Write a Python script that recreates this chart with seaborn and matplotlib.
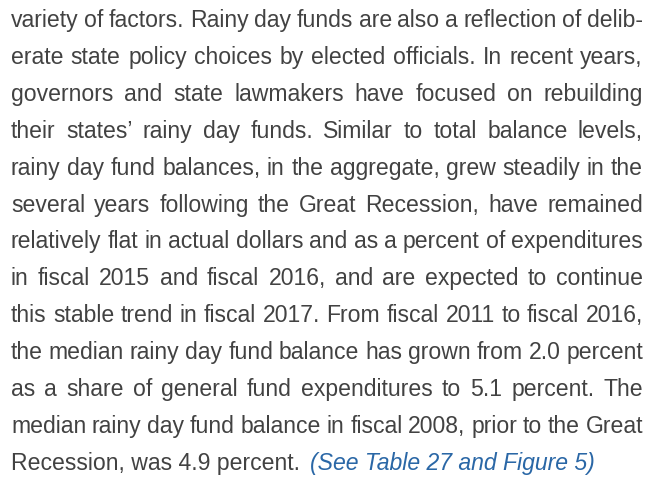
import matplotlib
matplotlib.use("Agg")
import matplotlib.pyplot as plt
import seaborn as sns

# Paragraph content (one entry per printed line)
justified_lines = [
    "variety of factors. Rainy day funds are also a reflection of delib-",
    "erate state policy choices by elected officials. In recent years,",
    "governors and state lawmakers have focused on rebuilding",
    "their states\u2019 rainy day funds. Similar to total balance levels,",
    "rainy day fund balances, in the aggregate, grew steadily in the",
    "several years following the Great Recession, have remained",
    "relatively flat in actual dollars and as a percent of expenditures",
    "in fiscal 2015 and fiscal 2016, and are expected to continue",
    "this stable trend in fiscal 2017. From fiscal 2011 to fiscal 2016,",
    "the median rainy day fund balance has grown from 2.0 percent",
    "as a share of general fund expenditures to 5.1 percent. The",
    "median rainy day fund balance in fiscal 2008, prior to the Great",
]
last_line = "Recession, was 4.9 percent."
link_text = "(See Table 27 and Figure 5)"

text_color = "#424242"
link_color = "#2a67a6"

sns.set_theme(style="white")
plt.rcParams['font.family'] = ['Liberation Sans', 'DejaVu Sans']

W, H = 649, 480
fig = plt.figure(figsize=(6.49, 4.80), dpi=100)
fig.patch.set_facecolor("white")
ax = fig.add_axes([0, 0, 1, 1])
ax.set_xlim(0, W)
ax.set_ylim(H, 0)
ax.axis('off')
renderer = fig.canvas.get_renderer()

left, right = 11, 643
first_baseline, spacing = 27.0, 36.9
fs = 16.6


def text_width(t, **kw):
    tx = ax.text(0, 0, t, fontsize=fs, **kw)
    bb = tx.get_window_extent(renderer)
    tx.remove()
    return bb.width


space_w = text_width("x x") - text_width("xx")

for i, line in enumerate(justified_lines):
    y = round(first_baseline + i * spacing)
    words = line.split(" ")
    widths = [text_width(w) for w in words]
    gap = (right - left - sum(widths)) / (len(words) - 1)
    x = left
    for w, wd in zip(words, widths):
        ax.text(x, y, w, fontsize=fs, color=text_color, ha='left', va='baseline')
        x += wd + gap

y = round(first_baseline + len(justified_lines) * spacing)
ax.text(left, y, last_line, fontsize=fs, color=text_color, ha='left', va='baseline')
x = left + text_width(last_line) + 1.6 * space_w
ax.text(x, y, link_text, fontsize=fs, color=link_color, style='italic',
        ha='left', va='baseline')

fig.savefig("out.png", dpi=100, facecolor="white")
